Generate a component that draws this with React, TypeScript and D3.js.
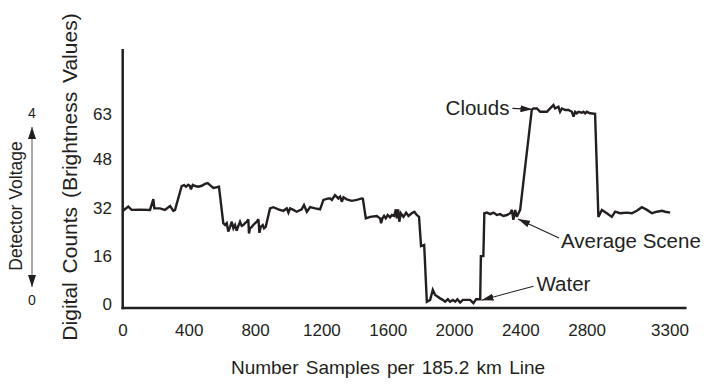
import React from 'react'
import * as d3 from 'd3'

// samples along the scan line (x) and digital counts (y)
const samples = [
  0, 32, 52, 103, 163, 183, 189, 223, 253, 284, 304, 314,
  354, 368, 380, 394, 404, 410, 421, 435, 454, 475, 495, 511, 525, 545, 565, 579,
  605, 616, 626, 635, 646, 656, 666, 676, 686, 696, 706, 716, 726, 736, 747, 756, 760,
  766, 777, 786, 807, 817, 823, 831, 843, 851, 861,
  887, 907, 937, 967, 988, 998, 1008, 1028, 1048, 1078, 1092, 1109, 1129, 1159, 1189,
  1209, 1239, 1249, 1260, 1279, 1299, 1310, 1320, 1330, 1350, 1380, 1410, 1441, 1447,
  1465, 1491, 1531, 1551, 1557, 1565, 1575, 1585, 1597, 1611, 1622, 1636, 1646, 1652,
  1660, 1667, 1676, 1692, 1708, 1722, 1742, 1758, 1772, 1786,
  1798, 1817, 1833,
  1853, 1869, 1883, 1897, 1913, 1929, 1943, 1960, 1973, 1990, 2004, 2017, 2034, 2050,
  2074, 2094, 2114, 2130, 2155,
  2159, 2174, 2180,
  2195, 2215, 2235, 2255, 2275, 2295, 2316, 2336, 2346, 2355, 2366, 2376, 2386, 2396,
  2466, 2476, 2497, 2517, 2537, 2557, 2577, 2597, 2607, 2627, 2637, 2648, 2668, 2687,
  2708, 2718, 2728, 2738, 2748, 2768, 2778, 2788, 2798, 2818, 2848,
  2868, 2889, 2919, 2949, 2969, 2999, 3040, 3070, 3100, 3130, 3161, 3191, 3221, 3251,
  3271, 3301,
]

const counts = [
  31.0, 32.4, 31.3, 31.4, 31.3, 34.9, 31.8, 31.8, 31.3, 32.6, 31.0, 31.3,
  39.2, 39.5, 39.0, 39.6, 39.2, 38.1, 39.6, 39.2, 39.0, 39.3, 39.9, 40.2, 39.5, 38.6, 38.8, 39.0,
  26.9, 26.3, 26.9, 24.1, 25.7, 27.4, 25.2, 26.3, 24.4, 26.0, 27.4, 26.0, 26.3, 26.9, 27.4, 28.2, 23.5,
  25.2, 25.7, 26.3, 27.4, 28.2, 23.7, 25.7, 26.3, 25.2, 25.7,
  31.8, 32.2, 31.5, 31.0, 31.8, 30.4, 31.8, 31.3, 30.7, 31.5, 32.9, 30.7, 32.2, 31.8, 31.5,
  34.6, 35.1, 35.1, 34.6, 36.2, 35.1, 35.7, 34.0, 35.5, 34.8, 34.3, 34.6, 35.1, 35.0,
  28.5, 29.0, 29.3, 28.5, 26.9, 28.5, 29.3, 28.5, 29.6, 28.8, 29.6, 29.3, 31.5, 28.5,
  31.5, 27.4, 30.2, 29.0, 30.4, 29.3, 30.2, 30.7, 29.6, 29.0,
  19.3, 19.7, 0.9,
  1.5, 4.8, 3.1, 2.6, 2.0, 1.5, 0.9, 1.7, 0.9, 1.5, 0.9, 1.7, 0.6, 1.5,
  1.5, 1.5, 0.4, 1.7, 1.7,
  16.0, 16.0, 30.2,
  30.4, 29.9, 30.4, 29.6, 29.9, 29.3, 29.6, 30.2, 31.3, 28.0, 31.3, 29.0, 30.2, 31.3,
  64.4, 64.9, 64.9, 63.8, 63.8, 63.8, 64.9, 66.0, 64.9, 65.5, 63.8, 64.9, 64.4, 64.4,
  63.8, 62.2, 63.8, 63.3, 63.8, 63.5, 63.8, 63.3, 63.8, 63.3, 63.1,
  29.0, 31.3, 30.2, 29.0, 30.7, 30.2, 30.4, 30.2, 31.0, 32.2, 31.3, 30.2, 30.7, 31.0,
  30.7, 30.4,
]

const xTicks = [0, 400, 800, 1200, 1600, 2000, 2400, 2800, 3300]
const yTicks = [0, 16, 32, 48, 63]

// callouts: label, the sample/count the arrow points at
const notes = [
  { label: 'Clouds', at: [2470, 64.6], from: [-20, -1], text: [-23, 6], anchor: 'end' },
  { label: 'Average Scene', at: [2383, 28.3], from: [41, 19], text: [43, 29], anchor: 'start' },
  { label: 'Water', at: [2163, 1.4], from: [52, -14], text: [55, -9], anchor: 'start' },
]

const INK = '#231f20'
const FONT = '"Liberation Sans", Arial, Helvetica, sans-serif'

export default function App() {
  const width = 711
  const height = 387

  const x = d3.scaleLinear().domain([0, 3300]).range([123, 670])
  const y = d3.scaleLinear().domain([0, 63]).range([304.4, 114.2])

  const axisY = y(0) + 3.6
  const axisTop = y(84.6)
  const axisRight = x(3400)

  const points: [number, number][] = samples.map((s, i) => [s, counts[i]])
  const line = d3.line<[number, number]>()
    .x(d => x(d[0]))
    .y(d => y(d[1]))

  return (
    <svg
      width={width}
      height={height}
      style={{ position: 'absolute', left: 0, top: 0, background: '#fff', fontFamily: FONT }}
    >
      <defs>
        <marker id="head" viewBox="0 0 12 7" refX="12" refY="3.5"
          markerWidth="12" markerHeight="7" markerUnits="userSpaceOnUse" orient="auto">
          <path d="M0,0 L12,3.5 L0,7 z" fill={INK} />
        </marker>
        <marker id="vhead" viewBox="0 0 12 8" refX="12" refY="4"
          markerWidth="12" markerHeight="8" markerUnits="userSpaceOnUse" orient="auto-start-reverse">
          <path d="M0,0 L12,4 L0,8 z" fill={INK} />
        </marker>
      </defs>

      {/* axes */}
      <line x1={x(0) - 0.3} x2={x(0) - 0.3} y1={axisTop} y2={axisY + 1.2} stroke={INK} strokeWidth={2.5} />
      <line x1={x(0) - 1.5} x2={axisRight} y1={axisY} y2={axisY} stroke={INK} strokeWidth={2.5} />

      {xTicks.map(t => (
        <text key={t} x={x(t)} y={336} textAnchor="middle" fontSize={17} fill={INK}>{t}</text>
      ))}
      {yTicks.map(t => (
        <text key={t} x={112} y={y(t) + 6} textAnchor="end" fontSize={17} fill={INK}>{t}</text>
      ))}

      <path d={line(points) ?? ''} fill="none" stroke={INK} strokeWidth={2.4} strokeLinejoin="miter" strokeMiterlimit={3} />

      {notes.map(n => {
        const tx = x(n.at[0])
        const ty = y(n.at[1])
        return (
          <g key={n.label}>
            <line x1={tx + n.from[0]} y1={ty + n.from[1]} x2={tx} y2={ty}
              stroke={INK} strokeWidth={1.1} markerEnd="url(#head)" />
            <text x={tx + n.text[0]} y={ty + n.text[1]} textAnchor={n.anchor as any}
              fontSize={20.5} fill={INK}>{n.label}</text>
          </g>
        )
      })}

      {/* axis titles */}
      <text x={388} y={374} textAnchor="middle" fontSize={19} fill={INK} wordSpacing={2}>
        Number Samples per 185.2 km Line
      </text>
      <text transform="translate(77,177) rotate(-90)" textAnchor="middle" fontSize={21} fill={INK} wordSpacing={3}>
        Digital Counts (Brightness Values)
      </text>

      {/* detector voltage scale */}
      <text transform="translate(22,206) rotate(-90)" textAnchor="middle" fontSize={17.5} fill={INK}>
        Detector Voltage
      </text>
      <line x1={32} x2={32} y1={127} y2={287} stroke="#555" strokeWidth={1}
        markerStart="url(#vhead)" markerEnd="url(#vhead)" />
      <text x={32} y={118} textAnchor="middle" fontSize={14} fill={INK}>4</text>
      <text x={32} y={305} textAnchor="middle" fontSize={14} fill={INK}>0</text>
    </svg>
  )
}
